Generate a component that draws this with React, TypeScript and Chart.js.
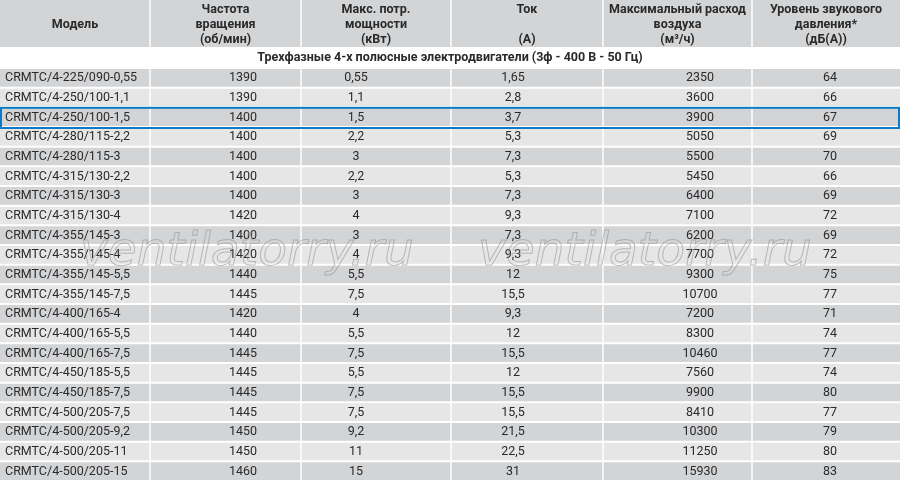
import React, { useEffect, useRef } from "react";
import { Chart, registerables } from "chart.js";

Chart.register(...registerables);

const models = [
  "CRMTC/4-225/090-0,55", "CRMTC/4-250/100-1,1", "CRMTC/4-250/100-1,5", "CRMTC/4-280/115-2,2",
  "CRMTC/4-280/115-3", "CRMTC/4-315/130-2,2", "CRMTC/4-315/130-3", "CRMTC/4-315/130-4",
  "CRMTC/4-355/145-3", "CRMTC/4-355/145-4", "CRMTC/4-355/145-5,5", "CRMTC/4-355/145-7,5",
  "CRMTC/4-400/165-4", "CRMTC/4-400/165-5,5", "CRMTC/4-400/165-7,5", "CRMTC/4-450/185-5,5",
  "CRMTC/4-450/185-7,5", "CRMTC/4-500/205-7,5", "CRMTC/4-500/205-9,2", "CRMTC/4-500/205-11",
  "CRMTC/4-500/205-15",
];
const speedRpm = [1390, 1390, 1400, 1400, 1400, 1400, 1400, 1420, 1400, 1420, 1440, 1445, 1420, 1440, 1445, 1445, 1445, 1445, 1450, 1450, 1460];
const powerKw = [0.55, 1.1, 1.5, 2.2, 3, 2.2, 3, 4, 3, 4, 5.5, 7.5, 4, 5.5, 7.5, 5.5, 7.5, 7.5, 9.2, 11, 15];
const currentA = [1.65, 2.8, 3.7, 5.3, 7.3, 5.3, 7.3, 9.3, 7.3, 9.3, 12, 15.5, 9.3, 12, 15.5, 12, 15.5, 15.5, 21.5, 22.5, 31];
const airflow = [2350, 3600, 3900, 5050, 5500, 5450, 6400, 7100, 6200, 7700, 9300, 10700, 7200, 8300, 10460, 7560, 9900, 8410, 10300, 11250, 15930];
const noiseDb = [64, 66, 67, 69, 70, 66, 69, 72, 69, 72, 75, 77, 71, 74, 77, 74, 80, 77, 79, 80, 83];
const headers = [
  ["", "Модель", ""],
  ["Частота", "вращения", "(об/мин)"],
  ["Макс. потр.", "мощности", "(кВт)"],
  ["Ток", "", "(А)"],
  ["Максимальный расход", "воздуха", "(м³/ч)"],
  ["Уровень звукового", "давления*", "(дБ(А))"],
];
const subtitle = "Трехфазные 4-х полюсные электродвигатели (3ф - 400 В - 50 Гц)";
const highlightedRow = 2;
const watermark = "ventilatorry.ru";

// layout (positions on the hidden 0..900 x scale)
const COL_EDGES = [0, 150, 301, 451, 603, 752, 900];
const DATA_X = [5, 243, 356, 513, 700, 830];
const WATERMARK_X = [80, 478];

const fmt = (v: number) => String(v).replace(".", ",");
const columns: string[][] = [
  models,
  speedRpm.map(String),
  powerKw.map(fmt),
  currentA.map(fmt),
  airflow.map(String),
  noiseDb.map(String),
];

const DARK = "#d3d4d6";
const LIGHT = "#e6e6e6";
const TEXT = "#2a2a2a";
const FONT = "Roboto";

const tablePlugin = {
  id: "tablePlugin",
  beforeDatasetsDraw(chart: any) {
    const { ctx } = chart;
    const x = chart.scales.x;
    ctx.save();
    // header band
    for (let c = 0; c < 6; c++) {
      const l = x.getPixelForValue(COL_EDGES[c]) + (c > 0 ? 0.75 : 0);
      const r = x.getPixelForValue(COL_EDGES[c + 1]) - (c < 5 ? 0.75 : 0);
      ctx.fillStyle = DARK;
      ctx.fillRect(l, 0, r - l, 47);
    }
    ctx.fillStyle = TEXT;
    ctx.font = `bold 12.5px ${FONT}`;
    ctx.textAlign = "center";
    ctx.textBaseline = "middle";
    const lineY = [9.5, 24.5, 39.5];
    headers.forEach((lines, c) => {
      const cx = x.getPixelForValue((COL_EDGES[c] + COL_EDGES[c + 1]) / 2);
      lines.forEach((t, k) => {
        if (t) ctx.fillText(t, cx, lineY[k]);
      });
    });
    ctx.fillText(subtitle, x.getPixelForValue(450), 58);
    ctx.restore();
  },
  afterDatasetsDraw(chart: any) {
    const { ctx } = chart;
    const x = chart.scales.x;
    const y = chart.scales.y;
    ctx.save();
    ctx.fillStyle = TEXT;
    ctx.font = `12.5px ${FONT}`;
    ctx.textBaseline = "middle";
    columns.forEach((vals, c) => {
      ctx.textAlign = c === 0 ? "left" : "center";
      vals.forEach((t, i) => {
        ctx.fillText(t, x.getPixelForValue(DATA_X[c]), y.getPixelForValue(i) + 0.5);
      });
    });
    // watermark
    ctx.font = `italic 47px "DejaVu Sans"`;
    ctx.textAlign = "left";
    ctx.textBaseline = "alphabetic";
    ctx.strokeStyle = "rgba(150,150,150,0.6)";
    ctx.lineWidth = 1;
    const wy = (y.getPixelForValue(8) + y.getPixelForValue(9)) / 2 + 20;
    WATERMARK_X.forEach((wx) => ctx.strokeText(watermark, x.getPixelForValue(wx), wy));
    // highlight box
    const step = y.getPixelForValue(1) - y.getPixelForValue(0);
    const cy = y.getPixelForValue(highlightedRow);
    ctx.strokeStyle = "#0a7bc4";
    ctx.lineWidth = 2;
    ctx.strokeRect(x.getPixelForValue(0) + 1, cy - step / 2 + 0.5, x.getPixelForValue(900) - 2, step + 0.5);
    ctx.restore();
  },
};

export default function App() {
  const ref = useRef<HTMLCanvasElement>(null);
  useEffect(() => {
    if (!ref.current) return;
    const datasets = COL_EDGES.slice(0, 6).map((start, c) => ({
      label: headers[c].join(" "),
      data: models.map(() => [start + (c > 0 ? 0.75 : 0), COL_EDGES[c + 1] - (c < 5 ? 0.75 : 0)]),
      backgroundColor: models.map((_, i) => (i % 2 === 0 ? DARK : LIGHT)),
      borderWidth: 0,
      barPercentage: 0.9,
      categoryPercentage: 1,
      grouped: false,
    }));
    const chart = new Chart(ref.current, {
      type: "bar",
      data: { labels: models, datasets: datasets as any },
      options: {
        animation: false,
        responsive: true,
        maintainAspectRatio: false,
        indexAxis: "y",
        layout: { padding: { top: 68, left: 0, right: 0, bottom: 0 } },
        scales: {
          x: { type: "linear", min: 0, max: 900, display: false },
          y: { type: "category", display: false, offset: true },
        },
        plugins: { legend: { display: false }, tooltip: { enabled: false }, title: { display: false } },
      },
      plugins: [tablePlugin],
    });
    return () => chart.destroy();
  }, []);
  return (
    <div style={{ position: "fixed", left: 0, top: 0, width: 900, height: 481, background: "#fff" }}>
      <canvas ref={ref} />
    </div>
  );
}
